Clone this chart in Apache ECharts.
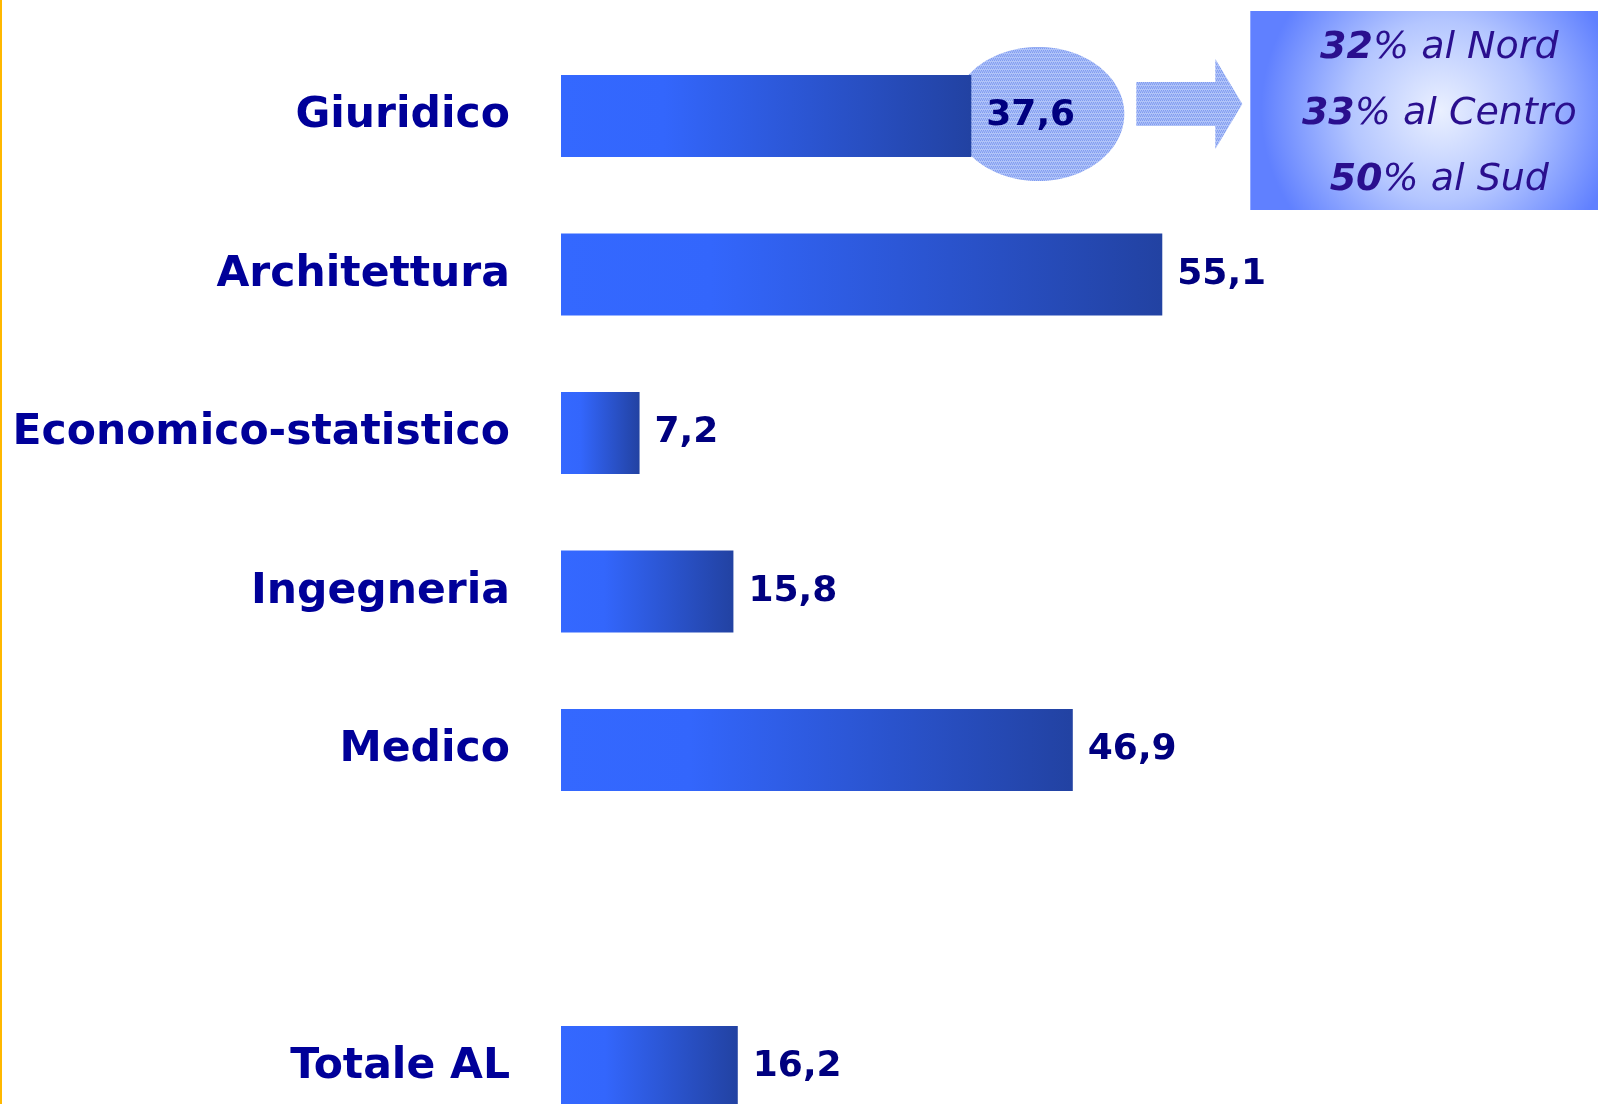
<!DOCTYPE html>
<html>
<head>
<meta charset="utf-8">
<script src="https://cdn.jsdelivr.net/npm/echarts@6/dist/echarts.min.js"></script>
<style>
html,body{margin:0;padding:0;background:#fff;}
#c{width:1598px;height:1104px;}
</style>
</head>
<body>
<div id="c"></div>
<script>
// ---- data ----
const categories = ['Giuridico', 'Architettura', 'Economico-statistico', 'Ingegneria', 'Medico', '', 'Totale AL'];
const values = [37.6, 55.1, 7.2, 15.8, 46.9, null, 16.2];
const calloutLines = [['32', '% al Nord'], ['33', '% al Centro'], ['50', '% al Sud']];

const chart = echarts.init(document.getElementById('c'), null, {renderer: 'canvas'});

function fmt(v) { return String(v).replace('.', ','); }

const barGradient = new echarts.graphic.LinearGradient(0, 0, 1, 0, [
  {offset: 0, color: '#3468FF'},
  {offset: 0.25, color: '#3366FC'},
  {offset: 1, color: '#2242A2'}
]);

chart.setOption({
  animation: false,
  backgroundColor: '#ffffff',
  grid: {left: 561, top: 116, width: 873, height: 951, containLabel: false},
  xAxis: {type: 'value', min: 0, max: 80, show: false},
  yAxis: {
    type: 'category',
    data: categories,
    inverse: true,
    boundaryGap: false,
    axisLine: {show: false},
    axisTick: {show: false},
    splitLine: {show: false},
    axisLabel: {
      margin: 51,
      color: '#000099',
      fontFamily: 'DejaVu Sans',
      fontWeight: 'bold',
      fontSize: 42.5
    }
  },
  series: [{
    type: 'bar',
    data: values,
    barWidth: 82,
    z: 3,
    itemStyle: {color: barGradient},
    label: {
      show: true,
      position: 'right',
      distance: 15,
      color: '#00007F',
      fontFamily: 'DejaVu Sans',
      fontWeight: 'bold',
      fontSize: 36,
      formatter: p => fmt(p.value)
    }
  }]
});

// dotted texture for the callout ellipse/arrow
function makePattern() {
  const cv = document.createElement('canvas');
  cv.width = 4; cv.height = 4;
  const ctx = cv.getContext('2d');
  ctx.fillStyle = '#B0C3F8';
  ctx.fillRect(0, 0, 4, 4);
  ctx.fillStyle = '#7F9BF0';
  ctx.fillRect(0, 0, 1, 1); ctx.fillRect(2, 0, 1, 1);
  ctx.fillRect(1, 2, 1, 1); ctx.fillRect(3, 2, 1, 1);
  ctx.fillStyle = '#98AFF4';
  ctx.fillRect(0, 3, 4, 1);
  return cv;
}
const pat = {image: makePattern(), repeat: 'repeat'};

// anchor annotations to the Giuridico bar end
const p = chart.convertToPixel({gridIndex: 0}, [values[0], categories[0]]);
const cx = p[0] + 67, cy = p[1] - 2;
const ay = cy - 10;

const lineEls = calloutLines.map((l, i) => ({
  type: 'text',
  z: 10,
  style: {
    x: cx + 401,
    y: cy - 66 + i * 66,
    text: '{b|' + l[0] + '}{n|' + l[1] + '}',
    align: 'center',
    verticalAlign: 'middle',
    rich: {
      b: {fontFamily: 'DejaVu Sans', fontWeight: 'bold', fontStyle: 'italic', fontSize: 38, fill: '#2A0F8E'},
      n: {fontFamily: 'DejaVu Sans', fontWeight: 'normal', fontStyle: 'italic', fontSize: 38, fill: '#2A0F8E'}
    }
  }
}));

chart.setOption({
  graphic: [
    {type: 'rect', z: 0, shape: {x: 0, y: 0, width: 2, height: 1104}, style: {fill: '#FFB800'}},
    {type: 'ellipse', z: 0, shape: {cx: cx, cy: cy, rx: 86, ry: 67}, style: {fill: pat}},
    {type: 'polygon', z: 0, shape: {points: [
      [cx + 98, ay - 22], [cx + 177, ay - 22], [cx + 177, ay - 45], [cx + 204, ay],
      [cx + 177, ay + 45], [cx + 177, ay + 22], [cx + 98, ay + 22]
    ]}, style: {fill: pat}},
    {type: 'rect', z: 5, shape: {x: cx + 212, y: cy - 103, width: 380, height: 199}, style: {
      fill: new echarts.graphic.RadialGradient(0.5, 0.5, 0.9, [
        {offset: 0, color: '#EAF0FF'},
        {offset: 0.5, color: '#B4C6FF'},
        {offset: 1, color: '#6080FF'}
      ])
    }},
    ...lineEls
  ]
});
</script>
</body>
</html>
